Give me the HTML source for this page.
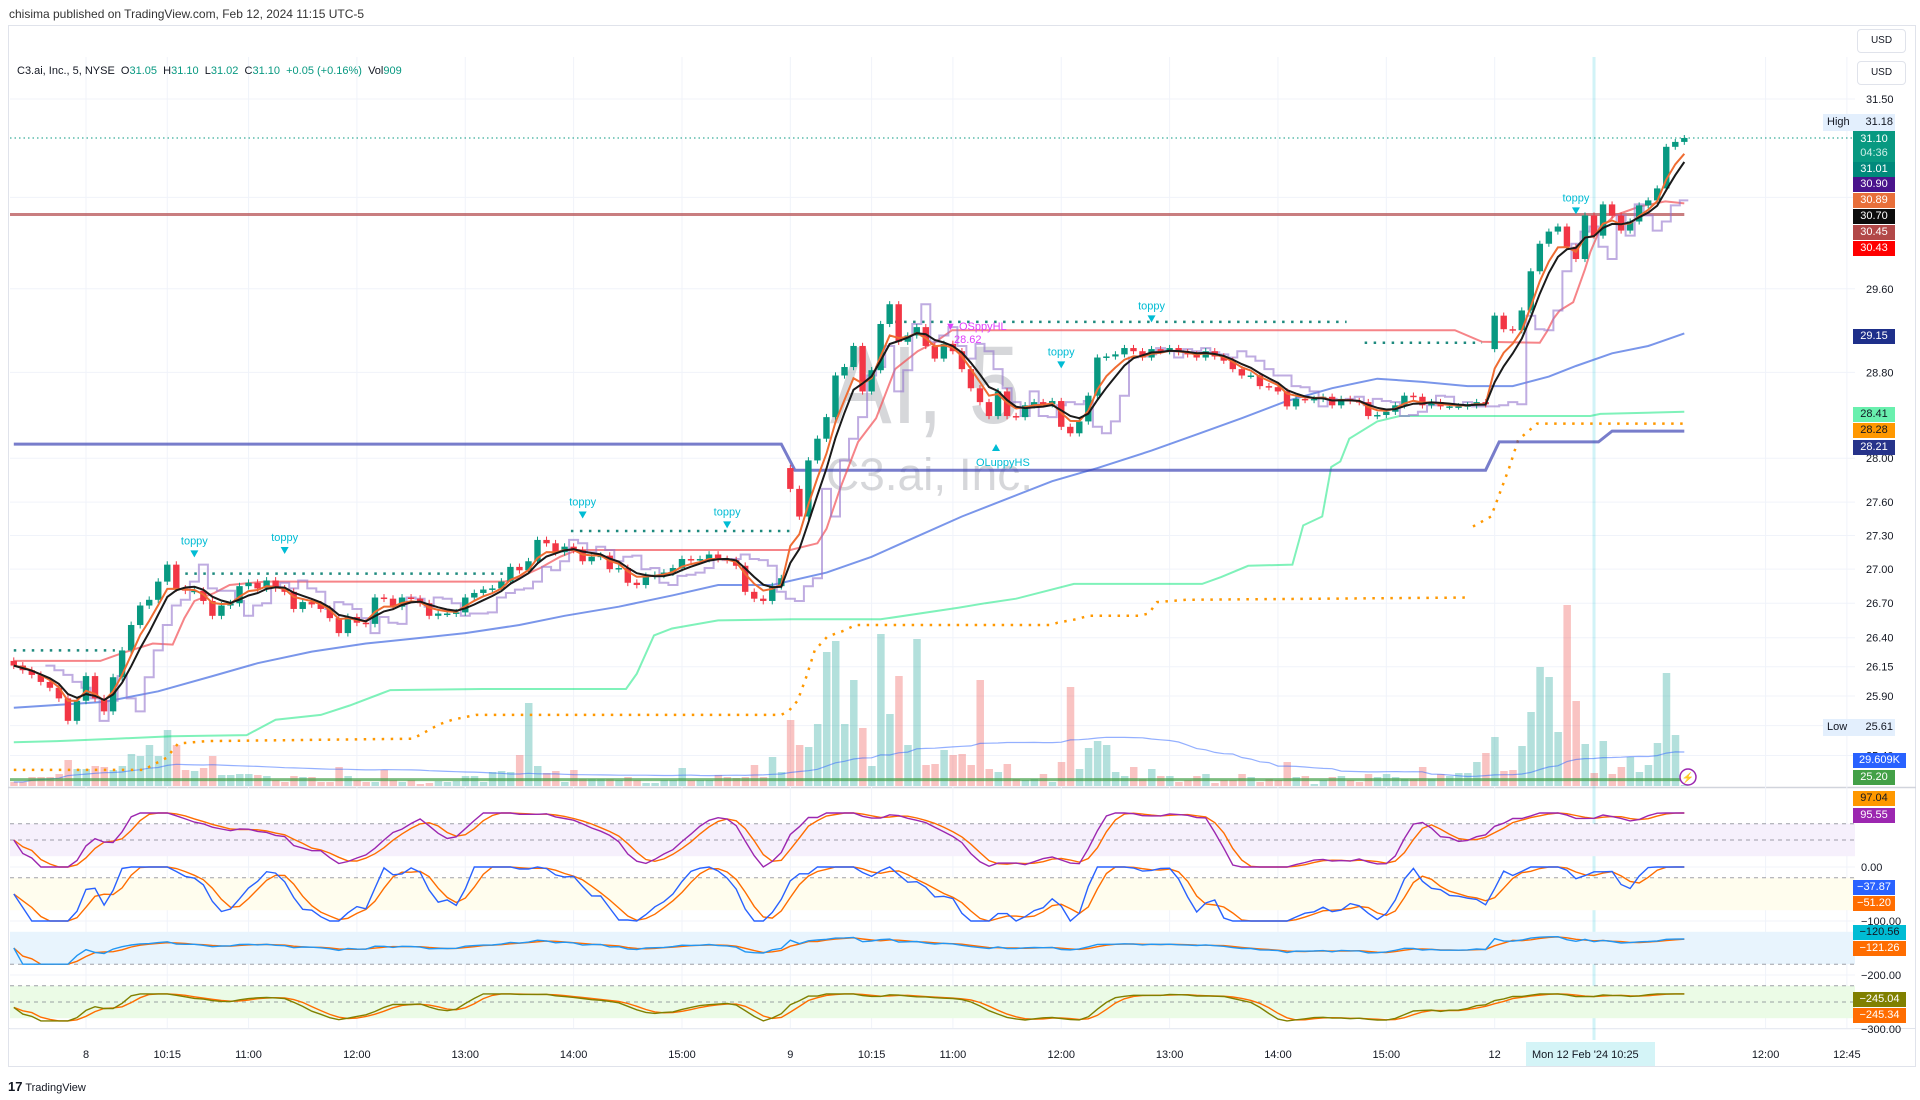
<!DOCTYPE html>
<html><head><meta charset="utf-8">
<style>
body{margin:0;width:1920px;height:1100px;background:#fff;overflow:hidden;font-family:"Liberation Sans",sans-serif;position:relative}
#hdr{position:absolute;left:9px;top:7px;font-size:12px;color:#333}
#legend{position:absolute;left:17px;top:65px;font-size:11px;color:#131722;white-space:pre}
#legend .v{color:#089981}
.tag{position:absolute;left:1853px;width:42px;height:15px;font-size:11px;line-height:15px;text-align:center;color:#fff}
.usd{position:absolute;left:1857px;width:47px;height:22px;border:1px solid #e0e3eb;border-radius:4px;font-size:10px;line-height:22px;text-align:center;color:#131722;background:#fff}
.hl{position:absolute;left:1823px;width:72px;height:17px;background:#e3effd;font-size:11px;line-height:17px;color:#131722}
#logo{position:absolute;left:8px;top:1079px;font-size:11px;color:#131722}
</style></head>
<body>
<div id="hdr">chisima published on TradingView.com, Feb 12, 2024 11:15 UTC-5</div>
<svg id="chart" width="1920" height="1100" style="position:absolute;left:0;top:0"></svg>
<div id="legend">C3.ai, Inc., 5, NYSE  O<span class="v">31.05</span>  H<span class="v">31.10</span>  L<span class="v">31.02</span>  C<span class="v">31.10</span>  <span class="v">+0.05 (+0.16%)</span>  Vol<span class="v">909</span></div>
<div class="usd" style="top:29px">USD</div>
<div class="usd" style="top:61px">USD</div>
<div class="hl" style="top:114px"><span style="margin-left:4px">High</span><span style="position:absolute;right:2px">31.18</span></div>
<div class="tag" style="top:131px;height:31px;line-height:14px;padding-top:1px;background:#089981">31.10<br><span style="color:#cdeee8">04:36</span></div>
<div class="tag" style="top:162px;background:#00897b">31.01</div>
<div class="tag" style="top:177px;background:#4a148c">30.90</div>
<div class="tag" style="top:193px;background:#e86f3a">30.89</div>
<div class="tag" style="top:209px;background:#0c0c0c">30.70</div>
<div class="tag" style="top:225px;background:#b24848">30.45</div>
<div class="tag" style="top:241px;background:#ff0000">30.43</div>
<div class="tag" style="top:329px;background:#1e2f8a">29.15</div>
<div class="tag" style="top:407px;background:#69f0ae;color:#131722">28.41</div>
<div class="tag" style="top:423px;background:#ff9800;color:#131722">28.28</div>
<div class="tag" style="top:440px;background:#26338a">28.21</div>
<div class="hl" style="top:719px"><span style="margin-left:4px">Low</span><span style="position:absolute;right:2px">25.61</span></div>
<div class="tag" style="top:753px;width:53px;background:#2962ff">29.609K</div>
<div class="tag" style="top:770px;background:#43a047">25.20</div>
<div class="tag" style="top:791px;background:#ff9800;color:#131722">97.04</div>
<div class="tag" style="top:808px;background:#9c27b0">95.55</div>
<div class="tag" style="top:880px;background:#2962ff">−37.87</div>
<div class="tag" style="top:896px;background:#ff6d00">−51.20</div>
<div class="tag" style="top:925px;width:53px;background:#00bcd4;color:#131722">−120.56</div>
<div class="tag" style="top:941px;width:53px;background:#ff6d00">−121.26</div>
<div class="tag" style="top:992px;width:53px;background:#808000">−245.04</div>
<div class="tag" style="top:1008px;width:53px;background:#ff6d00">−245.34</div>
<div id="logo"><b style="font-size:13px">17</b> TradingView</div>
<script>
// ---------- DATA ----------
const closes = [26.16,26.12,26.08,26.02,25.97,25.88,25.69,25.86,
26.07,25.88,25.77,26.06,26.29,26.51,26.68,26.73,26.89,27.04,26.83,26.81,26.81,26.72,26.59,26.68,26.70,26.85,26.88,26.83,
26.90,26.83,26.80,26.65,26.71,26.69,26.65,26.57,26.44,26.58,26.53,26.52,26.75,26.74,26.67,26.75,26.74,26.70,26.59,26.61,
26.61,26.62,26.75,26.79,26.82,26.83,26.89,27.02,26.99,27.07,27.26,27.23,27.15,27.20,27.17,27.07,27.11,27.12,27.00,27.01,
26.88,26.86,26.94,26.95,26.97,27.01,27.09,27.08,27.09,27.13,27.09,27.08,27.03,26.80,26.74,26.72,26.85,26.92,
27.72,27.47,27.98,28.18,28.38,28.77,28.85,29.05,28.62,28.82,29.26,29.45,29.09,29.15,29.23,29.05,28.93,29.07,29.00,28.83,
28.65,28.52,28.39,28.62,28.39,28.38,28.49,28.52,28.50,28.53,28.29,28.23,28.34,28.58,28.94,28.95,28.97,29.03,29.00,28.94,
29.02,29.00,29.03,28.99,28.97,28.94,29.00,28.95,28.91,28.83,28.77,28.77,28.67,28.66,28.62,28.48,28.55,28.54,28.55,28.57,
28.49,28.55,28.53,28.52,28.39,28.40,28.43,28.49,28.58,28.57,28.49,28.52,28.48,28.48,28.48,28.49,28.52,28.50,
29.34,29.21,29.20,29.39,29.77,30.04,30.16,30.21,30.01,29.89,30.32,30.12,30.43,30.32,30.17,30.26,30.42,30.47,30.59,31.01,31.06,31.10];
const gapOpenIdx = [0, 86, 164];
const gapOpenVal = [26.20, 27.91, 29.02];
const volumes = [4,4,9,9,9,12,26,17,
17,20,19,16,20,32,30,41,30,56,41,16,15,18,30,11,11,12,12,11,10,6,4,10,9,9,4,4,19,10,6,4,4,16,6,4,6,2,3,5,
4,5,10,10,4,14,15,14,31,83,20,13,15,4,16,7,7,7,7,6,9,6,3,3,6,6,18,6,6,6,11,9,8,9,21,9,29,14,
66,41,39,62,134,145,62,106,58,20,152,72,110,41,147,21,22,36,31,32,21,106,17,14,22,7,6,7,12,4,24,99,17,
38,45,41,14,10,19,7,17,10,10,4,6,10,12,3,6,6,12,9,4,7,6,24,9,10,2,6,9,10,6,4,12,9,12,9,7,7,19,7,12,10,13,13,24,33,
49,15,16,40,74,119,109,54,181,85,42,13,45,12,19,29,14,21,43,113,51,1];
const blueIdx = [0,10,16,22,27,33,39,44,50,56,61,67,73,78,84,90,95,100,105,110,115,120,126,131,136,141,146,151,156,161,166,170,173,177,181,185];
const blueVal = [25.80,25.85,25.94,26.07,26.18,26.28,26.35,26.39,26.44,26.51,26.59,26.67,26.77,26.86,26.86,26.97,27.11,27.29,27.47,27.63,27.79,27.91,28.07,28.22,28.37,28.53,28.65,28.74,28.71,28.67,28.67,28.76,28.86,28.98,29.05,29.17];
const greenIdx = [0,4.8,11.2,17.5,25.8,29,34,37.2,41.7,51.9,67.8,69,70.9,72.9,78,86.2,96,104.6,107.6,111,117.4,131.6,133.7,136.7,141.6,142.8,144.9,145.9,146.9,147.9,151,153.5,174.6,175.7,185];
const greenVal = [25.51,25.52,25.54,25.56,25.57,25.70,25.74,25.82,25.95,25.96,25.96,26.09,26.42,26.48,26.55,26.56,26.56,26.66,26.70,26.74,26.87,26.87,26.93,27.03,27.04,27.39,27.47,27.92,27.97,28.18,28.34,28.39,28.39,28.41,28.43];
const stopIdx = [0,14.5,15.1,16.9,18.2,21.4,44.2,45.9,47.1,48.6,51.2,85,85.9,86.8,87.8,88.7,90.1,91.9,93.2,114.8,115.6,117.6,119.1,124.6,125.7,126.6,129.8,161.3,161.4,161.6,163.6,165.6,166.6,167.6,168.7,185];
const stopVal = [25.28,25.28,25.31,25.38,25.50,25.52,25.54,25.61,25.66,25.70,25.74,25.74,25.78,25.86,26.07,26.29,26.41,26.46,26.51,26.51,26.53,26.56,26.59,26.59,26.61,26.71,26.73,26.75,null,27.38,27.47,27.91,28.17,28.24,28.32,28.32];
const basisIdx = [0,85,86.5,163,164.5,175.5,177,185];
const basisVal = [28.13,28.13,27.89,27.89,28.15,28.15,28.25,28.25];
const pinkIdx = [0,9.6,12.1,15.4,17.6,18.9,20,22.2,23.9,27.8,54.4,56.1,58.3,60.5,62.4,86,89,90,91.5,93.5,95.5,97.6,100.1,102.1,103.9,159.6,162.6,169,169.8,170.5,171.2,172.7,174,174.6,175.7,177.3,180.1,182.9,185];
const pinkVal = [26.20,26.20,26.27,26.35,26.34,26.57,26.72,26.79,26.86,26.89,26.89,26.93,27.01,27.11,27.17,27.17,27.23,27.36,27.72,28.15,28.37,28.83,29.00,29.09,29.20,29.20,29.09,29.08,29.19,29.31,29.39,29.47,29.79,29.96,30.19,30.32,30.41,30.46,30.44];
const resStart = [0,18,61.7,97.6,149.6];
const resEnd = [11.2,54.4,86,147.6,162.6];
const resVal = [26.29,26.96,27.34,29.28,29.08];
const levelBrown = 30.33;
const levelGreen = 25.20;
const lastPrice = 31.10;
const toppyIdx = [20,30,63,79,116,126,173];
const toppyPrice = [27.22,27.25,27.57,27.48,28.96,29.40,30.46];
const priceTicks = [31.5,30.5,29.6,28.8,28.0,27.6,27.3,27.0,26.7,26.4,26.15,25.9,25.65,25.4];
const priceTickLabels = ["31.50","30.50","29.60","28.80","28.00","27.60","27.30","27.00","26.70","26.40","26.15","25.90","25.65","25.40"];
const oscTicks = [0,-100,-200,-300];
const oscTickLabels = ["0.00","−100.00","−200.00","−300.00"];
const timeIdx = [8,17,26,38,50,62,74,86,95,104,116,128,140,152,164,194,203];
const timeLabels = ["8","10:15","11:00","12:00","13:00","14:00","15:00","9","10:15","11:00","12:00","13:00","14:00","15:00","12","12:00","12:45"];
const crossIdx = 175;

// ---------- SCALES ----------
const xOf = i => 86 + (i - 8) * 9.03;
const yP = p => 99 + Math.log(31.5 / p) * 3050;
const yV = v => 786 - v * 1.0;
const yO = v => 867 - v * 0.54;

const NS = 'http://www.w3.org/2000/svg';
const svg = document.getElementById('chart');
function mk(tag, attrs, parent){const e=document.createElementNS(NS,tag);for(const k in attrs)e.setAttribute(k,attrs[k]);(parent||svg).appendChild(e);return e;}

function sma(a,n){return a.map((v,i)=>{let s=0,c=0;for(let j=Math.max(0,i-n+1);j<=i;j++){if(a[j]!=null){s+=a[j];c++;}}return c?s/c:null;});}
function ema(a,n){const k=2/(n+1);let e=a[0];return a.map(v=>(e=e+(v-e)*k));}
function wma(a,n){return a.map((v,i)=>{let s=0,w=0;for(let j=0;j<n&&i-j>=0;j++){s+=a[i-j]*(n-j);w+=n-j;}return s/w;});}
function stoch(a,n){return a.map((v,i)=>{let hh=-1e9,ll=1e9;for(let j=Math.max(0,i-n+1);j<=i;j++){hh=Math.max(hh,a[j]);ll=Math.min(ll,a[j]);}return hh>ll?100*(v-ll)/(hh-ll):50;});}
function rsi(a,n){let g=0,l=0;const out=[50];for(let i=1;i<a.length;i++){const d=a[i]-a[i-1];const up=Math.max(d,0),dn=Math.max(-d,0);if(i<=n){g+=up/n;l+=dn/n;}else{g=(g*(n-1)+up)/n;l=(l*(n-1)+dn)/n;}out.push(l===0?100:100-100/(1+g/l));}return out;}
function pathXY(xs,ys){let d='',pen=false;for(let i=0;i<xs.length;i++){if(ys[i]==null||isNaN(ys[i])){pen=false;continue;}d+=(pen?'L':'M')+xs[i].toFixed(1)+','+ys[i].toFixed(1);pen=true;}return d;}

const opens = closes.map((c,i)=>{const g=gapOpenIdx.indexOf(i);if(g>=0)return gapOpenVal[g];return closes[i-1];});
const N = closes.length;
const idxs = closes.map((c,i)=>i);

const defs = mk('defs',{});
const cp = mk('clipPath',{id:'mainClip'},defs);
mk('rect',{x:10,y:57,width:1845,height:730},cp);
const cp2 = mk('clipPath',{id:'oscClip'},defs);
mk('rect',{x:10,y:788,width:1845,height:240},cp2);

const frame = mk('rect',{x:8.5,y:25.5,width:1907,height:1041,fill:'none',stroke:'#e0e3eb'});


const sep = mk('line',{x1:8,x2:1916,y1:787.5,y2:787.5,stroke:'#d1d4dc','stroke-width':1.5});


const tline = mk('line',{x1:8,x2:1916,y1:1028.5,y2:1028.5,stroke:'#e0e3eb'});



const grid = mk('g',{stroke:'#f0f3fa','stroke-width':1});


priceTicks.forEach((p,k)=>{
  const l=mk('line',{x1:10,x2:1855,y1:yP(p),y2:yP(p)},grid);
  
  
});
oscTicks.forEach(v=>{
  const l=mk('line',{x1:10,x2:1855,y1:yO(v),y2:yO(v)},grid);
  
  
});
timeIdx.forEach(i=>{
  const l=mk('line',{x1:xOf(i),x2:xOf(i),y1:57,y2:1028},grid);
  
  
});

const axg = mk('g',{'font-family':'Liberation Sans, sans-serif','font-size':11,fill:'#131722'});


priceTicks.forEach((p,k)=>{
  const t=mk('text',{x:1866,y:yP(p)+4},axg);t.textContent=priceTickLabels[k];
  
  
});
oscTicks.forEach((v,k)=>{
  const t=mk('text',{x:1861,y:yO(v)+4},axg);t.textContent=oscTickLabels[k];
  
  
});

const ch = mk('line',{x1:xOf(crossIdx),x2:xOf(crossIdx),y1:57,y2:1040,stroke:'rgba(0,188,212,0.18)','stroke-width':3});



timeIdx.forEach((i,k)=>{
  const t=mk('text',{x:xOf(i),y:1058,'text-anchor':'middle'},axg);t.textContent=timeLabels[k];
  
  
});
const cbox = mk('rect',{x:1526,y:1042,width:129,height:24,fill:'#d4f4f7'});


const ctxt = mk('text',{x:1532,y:1058,'font-size':11,fill:'#131722','font-family':'Liberation Sans, sans-serif'});
ctxt.textContent="Mon 12 Feb '24   10:25";



const gm = mk('g',{'clip-path':'url(#mainClip)'});



const wm1 = mk('text',{x:830,y:423,'font-size':110,fill:'rgba(120,123,134,0.3)',textLength:190,lengthAdjust:'spacingAndGlyphs','font-family':'Liberation Sans, sans-serif'},gm);
wm1.textContent='AI, 5';


const wm2 = mk('text',{x:826,y:490,'font-size':45,fill:'rgba(120,123,134,0.3)',textLength:207,lengthAdjust:'spacingAndGlyphs','font-family':'Liberation Sans, sans-serif'},gm);
wm2.textContent='C3.ai, Inc.';



const gv = mk('g',{},gm);


volumes.forEach((v,i)=>{
  const up = closes[i]>=opens[i];
  const r = mk('rect',{x:xOf(i)-3.5,y:yV(v),width:7.5,height:Math.max(0.5,786-yV(v)),fill:up?'rgba(38,166,154,0.35)':'rgba(239,83,80,0.35)'},gv);
  
  
});
const volMA = sma(volumes,40);
const vma = mk('path',{d:pathXY(idxs.map(xOf),volMA.map(yV)),fill:'none',stroke:'rgba(41,98,255,0.5)','stroke-width':1.2},gm);


const lg = mk('line',{x1:10,x2:1684,y1:yP(levelGreen),y2:yP(levelGreen),stroke:'rgba(67,160,71,0.7)','stroke-width':3},gm);



function anchorLine(ix,vals,attrs,name){
  const p = mk('path',Object.assign({d:pathXY(ix.map(xOf),vals.map(v=>v==null?null:yP(v))),fill:'none'},attrs),gm);
  
  
  return p;
}
anchorLine(blueIdx,blueVal,{stroke:'rgba(66,105,225,0.7)','stroke-width':2},'long-ma-line');
anchorLine(greenIdx,greenVal,{stroke:'rgba(0,230,118,0.5)','stroke-width':2},'trailing-support-line');
anchorLine(stopIdx,stopVal,{stroke:'#ff9800','stroke-width':2.5,'stroke-dasharray':'2.5 6.5'},'trailing-stop-dots');
anchorLine(basisIdx,basisVal,{stroke:'rgba(63,70,181,0.7)','stroke-width':3},'basis-line');
const brown = mk('line',{x1:10,x2:xOf(185),y1:yP(levelBrown),y2:yP(levelBrown),stroke:'rgba(178,71,74,0.7)','stroke-width':3},gm);


anchorLine(pinkIdx,pinkVal,{stroke:'rgba(242,80,85,0.7)','stroke-width':2},'resistance-trail-line');
resVal.forEach((v,k)=>{
  const l = mk('line',{x1:xOf(resStart[k]),x2:xOf(resEnd[k]),y1:yP(v),y2:yP(v),stroke:'#1e8a7e','stroke-width':2.5,'stroke-dasharray':'2.5 6.5'},gm);
  
  
});

const lag = 4;
let sd='';
for(let i=lag;i<N;i++){const x=xOf(i)-4.5,y=yP(closes[i-lag]);sd+=(i===lag?'M'+x.toFixed(1)+','+y.toFixed(1):'H'+x.toFixed(1)+'V'+y.toFixed(1));}
sd+='H'+(xOf(N-1)+4).toFixed(1);
const step = mk('path',{d:sd,fill:'none',stroke:'rgba(149,117,205,0.6)','stroke-width':2},gm);



const gc = mk('g',{},gm);


closes.forEach((c,i)=>{
  const o=opens[i],up=c>=o,col=up?'#089981':'#f23645';
  const hi=Math.max(o,c)+0.03,lo=Math.min(o,c)-0.03;
  const w = mk('line',{x1:xOf(i),x2:xOf(i),y1:yP(hi),y2:yP(lo),stroke:col,'stroke-width':1},gc);
  
  
  const yt=yP(Math.max(o,c)),yb=yP(Math.min(o,c));
  const b = mk('rect',{x:xOf(i)-3.2,y:yt,width:6.4,height:Math.max(1.5,yb-yt),fill:col},gc);
  
  
});

const fastLine = ema(closes,4);
const slowLine = wma(closes,7);
const fl = mk('path',{d:pathXY(idxs.map(xOf),fastLine.map(yP)),fill:'none',stroke:'#ef6c32','stroke-width':2},gm);


const bl = mk('path',{d:pathXY(idxs.map(xOf),slowLine.map(yP)),fill:'none',stroke:'#1a1a1a','stroke-width':2},gm);



const lp = mk('line',{x1:10,x2:1855,y1:yP(lastPrice),y2:yP(lastPrice),stroke:'#089981','stroke-width':1,'stroke-dasharray':'1.5 3'},gm);



toppyIdx.forEach((i,k)=>{
  const y=yP(toppyPrice[k]);
  const t = mk('text',{x:xOf(i),y:y,'text-anchor':'middle','font-size':11,fill:'#00bcd4','font-family':'Liberation Sans, sans-serif'},gm);
  t.textContent='toppy';
  
  
  const tri = mk('path',{d:`M${xOf(i)-4},${y+6}L${xOf(i)+4},${y+6}L${xOf(i)},${y+13}Z`,fill:'#00bcd4'},gm);
  
  
});
const hl1 = mk('text',{x:945,y:330,'font-size':11,fill:'#e040fb','font-family':'Liberation Sans, sans-serif'},gm);
hl1.textContent='▼ OSppyHL';


const hl2 = mk('text',{x:954,y:343,'font-size':11,fill:'#e040fb','font-family':'Liberation Sans, sans-serif'},gm);
hl2.textContent='28.62';


const hs1 = mk('path',{d:'M996,444L1000,451L992,451Z',fill:'#00bcd4'},gm);


const hs2 = mk('text',{x:976,y:466,'font-size':11,fill:'#00bcd4','font-family':'Liberation Sans, sans-serif'},gm);
hs2.textContent='OLuppyHS';



const li = mk('circle',{cx:1688,cy:777,r:8,fill:'#fff',stroke:'#9c27b0','stroke-width':1.5});


const lt = mk('text',{x:1688,y:781,'text-anchor':'middle','font-size':10,fill:'#9c27b0'});
lt.textContent='⚡';



const go = mk('g',{'clip-path':'url(#oscClip)'});


const bandTop = [80,-20,-120,-220];
const bandBot = [20,-80,-180,-280];
const bandFill = ['#f6f0fc','#fffdee','#e8f4fd','#ebfbe6'];
bandTop.forEach((t,k)=>{
  const r = mk('rect',{x:10,y:yO(t),width:1845,height:yO(bandBot[k])-yO(t),fill:bandFill[k]},go);
  
  
});
const dashLevels = [80,50,-20,-180,-220,-250];
dashLevels.forEach(v=>{
  const l = mk('line',{x1:10,x2:1855,y1:yO(v),y2:yO(v),stroke:'#787b86','stroke-width':1,'stroke-dasharray':'4 4','opacity':0.7},go);
  
  
});
const k1 = sma(stoch(closes,14),3), d1 = sma(k1,3);
const k2 = sma(stoch(closes,10),2).map(v=>v-100), d2 = sma(k2,3);
const r3 = rsi(closes,14).map(v=>(v-50)*0.6-150), d3 = sma(r3,3);
const k4 = sma(stoch(closes,20),3).map(v=>v*0.5-285), d4 = sma(k4,3);
const oscSeries = [[d1,'#ff6d00','osc1-d'],[k1,'#9c27b0','osc1-k'],[d2,'#ff6d00','osc2-d'],[k2,'#2962ff','osc2-k'],[d3,'#ff6d00','osc3-d'],[r3,'#2196f3','osc3-k'],[d4,'#ff6d00','osc4-d'],[k4,'#808000','osc4-k']];
oscSeries.forEach(s=>{
  const p = mk('path',{d:pathXY(idxs.map(xOf),s[0].map(yO)),fill:'none',stroke:s[1],'stroke-width':1.4},go);
  
  
});
</script>
</body></html>
